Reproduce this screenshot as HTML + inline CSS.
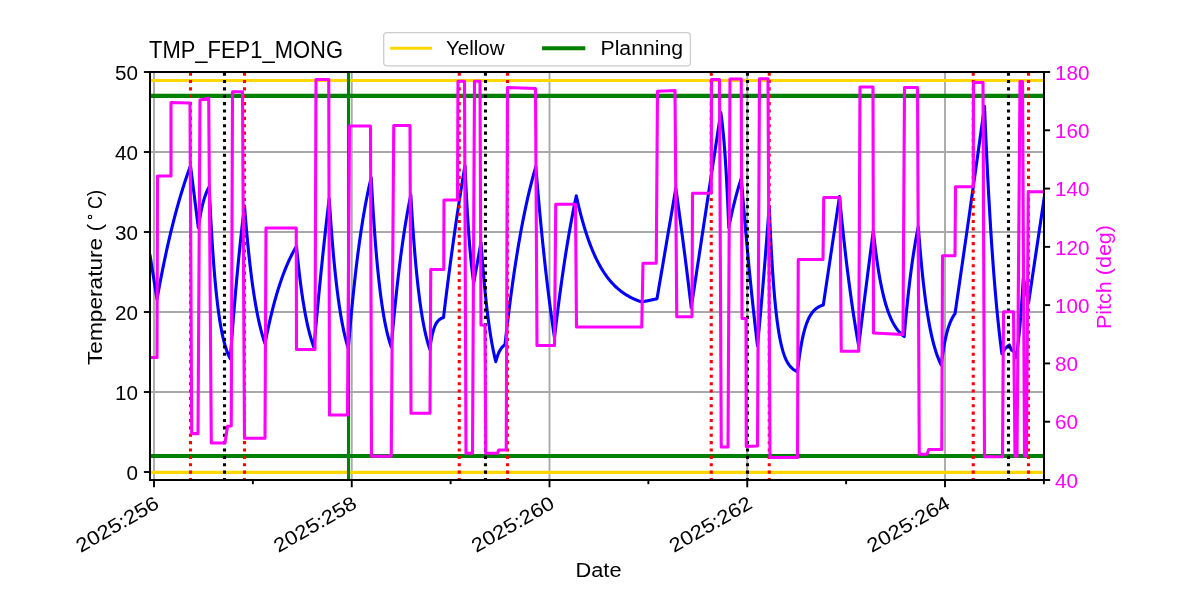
<!DOCTYPE html>
<html><head><meta charset="utf-8"><title>TMP_FEP1_MONG</title>
<style>html,body{margin:0;padding:0;background:#fff;width:1200px;height:600px;overflow:hidden;font-family:"Liberation Sans",sans-serif;}svg{display:block;will-change:transform}</style>
</head><body>
<svg width="1200" height="600" viewBox="0 0 1200 600">
<rect x="0" y="0" width="1200" height="600" fill="#ffffff"/>
<defs><clipPath id="ax"><rect x="150" y="72" width="894" height="408"/></clipPath></defs>
<g stroke="#a9a9a9" stroke-width="1.9" clip-path="url(#ax)"><line x1="150" x2="1044" y1="472" y2="472"/><line x1="150" x2="1044" y1="392" y2="392"/><line x1="150" x2="1044" y1="312" y2="312"/><line x1="150" x2="1044" y1="232" y2="232"/><line x1="150" x2="1044" y1="152" y2="152"/><line x1="150" x2="1044" y1="72" y2="72"/><line x1="154.00" x2="154.00" y1="72" y2="480"/><line x1="351.75" x2="351.75" y1="72" y2="480"/><line x1="549.50" x2="549.50" y1="72" y2="480"/><line x1="747.25" x2="747.25" y1="72" y2="480"/><line x1="945.00" x2="945.00" y1="72" y2="480"/></g>
<g clip-path="url(#ax)">
<path d="M150.00,255.00 L150.50,258.16 L151.00,261.31 L151.50,264.47 L152.00,267.63 L152.50,270.79 L153.00,273.94 L153.50,277.10 L154.00,280.26 L154.50,283.41 L155.00,286.57 L155.50,289.73 L156.00,292.89 L156.50,296.04 L157.00,299.20 L157.50,296.40 L158.00,293.63 L158.50,290.90 L159.00,288.19 L159.50,285.51 L160.00,282.86 L160.50,280.24 L161.00,277.65 L161.50,275.09 L162.00,272.55 L162.50,270.04 L163.00,267.57 L163.50,265.11 L164.00,262.69 L164.50,260.29 L165.00,257.91 L165.50,255.57 L166.00,253.25 L166.50,250.95 L167.00,248.68 L167.50,246.43 L168.00,244.21 L168.50,242.02 L169.00,239.84 L169.50,237.69 L170.00,235.57 L170.50,233.46 L171.00,231.39 L171.50,229.33 L172.00,227.29 L172.50,225.28 L173.00,223.29 L173.50,221.32 L174.00,219.38 L174.50,217.45 L175.00,215.55 L175.50,213.66 L176.00,211.80 L176.50,209.96 L177.00,208.14 L177.50,206.33 L178.00,204.55 L178.50,202.79 L179.00,201.04 L179.50,199.32 L180.00,197.61 L180.50,195.93 L181.00,194.26 L181.50,192.61 L182.00,190.97 L182.50,189.36 L183.00,187.76 L183.50,186.18 L184.00,184.62 L184.50,183.08 L185.00,181.55 L185.50,180.04 L186.00,178.54 L186.50,177.06 L187.00,175.60 L187.50,174.15 L188.00,172.72 L188.50,171.31 L189.00,169.91 L189.50,168.52 L190.00,167.15 L190.50,165.80 L191.02,169.91 L191.54,174.03 L192.06,178.14 L192.58,182.25 L193.10,186.37 L193.62,190.48 L194.14,194.59 L194.66,198.71 L195.18,202.82 L195.70,206.93 L196.22,211.05 L196.74,215.16 L197.26,219.27 L197.78,223.39 L198.30,227.50 L198.82,224.04 L199.34,220.80 L199.86,217.77 L200.38,214.92 L200.90,212.26 L201.41,209.77 L201.93,207.43 L202.45,205.24 L202.97,203.19 L203.49,201.27 L204.01,199.47 L204.53,197.79 L205.05,196.21 L205.57,194.73 L206.09,193.35 L206.60,192.05 L207.12,190.84 L207.64,189.70 L208.16,188.63 L208.68,187.64 L209.20,186.70 L209.70,197.50 L210.20,207.68 L210.71,217.27 L211.21,226.31 L211.71,234.82 L212.21,242.85 L212.72,250.42 L213.22,257.55 L213.72,264.27 L214.22,270.60 L214.73,276.57 L215.23,282.20 L215.73,287.50 L216.23,292.50 L216.74,297.20 L217.24,301.64 L217.74,305.83 L218.24,309.77 L218.75,313.48 L219.25,316.98 L219.75,320.28 L220.25,323.39 L220.75,326.32 L221.26,329.08 L221.76,331.69 L222.26,334.14 L222.76,336.45 L223.27,338.63 L223.77,340.68 L224.27,342.62 L224.77,344.44 L225.28,346.16 L225.78,347.78 L226.28,349.31 L226.78,350.75 L227.29,352.10 L227.79,353.38 L228.29,354.59 L228.79,355.72 L229.30,356.79 L229.80,357.80 L230.30,358.75 L230.81,351.75 L231.31,344.88 L231.82,338.15 L232.33,331.54 L232.84,325.06 L233.34,318.70 L233.85,312.46 L234.36,306.35 L234.86,300.35 L235.37,294.46 L235.88,288.69 L236.39,283.02 L236.89,277.47 L237.40,272.02 L237.91,266.68 L238.41,261.43 L238.92,256.29 L239.43,251.24 L239.94,246.30 L240.44,241.44 L240.95,236.68 L241.46,232.01 L241.96,227.43 L242.47,222.93 L242.98,218.53 L243.49,214.20 L243.99,209.96 L244.50,205.80 L245.00,212.21 L245.50,218.38 L246.00,224.33 L246.50,230.07 L247.00,235.59 L247.50,240.92 L248.00,246.05 L248.50,250.99 L249.00,255.76 L249.50,260.35 L250.00,264.78 L250.50,269.04 L251.00,273.15 L251.50,277.11 L252.00,280.93 L252.50,284.61 L253.00,288.15 L253.50,291.57 L254.00,294.86 L254.50,298.03 L255.00,301.09 L255.50,304.04 L256.00,306.88 L256.50,309.61 L257.00,312.25 L257.50,314.79 L258.00,317.24 L258.50,319.60 L259.00,321.87 L259.50,324.06 L260.00,326.17 L260.50,328.21 L261.00,330.17 L261.50,332.06 L262.00,333.88 L262.50,335.64 L263.00,337.33 L263.50,338.96 L264.00,340.53 L264.50,342.04 L265.00,343.50 L265.50,340.94 L266.00,338.43 L266.50,335.96 L267.00,333.53 L267.50,331.15 L268.00,328.81 L268.50,326.52 L269.00,324.26 L269.50,322.04 L270.00,319.87 L270.50,317.73 L271.00,315.63 L271.50,313.57 L272.00,311.54 L272.50,309.56 L273.00,307.60 L273.50,305.68 L274.00,303.80 L274.50,301.95 L275.00,300.13 L275.50,298.34 L276.00,296.59 L276.50,294.87 L277.00,293.18 L277.50,291.52 L278.00,289.88 L278.50,288.28 L279.00,286.71 L279.50,285.16 L280.00,283.64 L280.50,282.15 L281.00,280.69 L281.50,279.25 L282.00,277.84 L282.50,276.45 L283.00,275.08 L283.50,273.75 L284.00,272.43 L284.50,271.14 L285.00,269.87 L285.50,268.63 L286.00,267.40 L286.50,266.20 L287.00,265.02 L287.50,263.86 L288.00,262.72 L288.50,261.60 L289.00,260.51 L289.50,259.43 L290.00,258.37 L290.50,257.33 L291.00,256.31 L291.50,255.30 L292.00,254.32 L292.50,253.35 L293.00,252.40 L293.50,251.46 L294.00,250.55 L294.50,249.65 L295.00,248.76 L295.50,247.89 L296.00,247.04 L296.50,246.20 L297.00,251.47 L297.50,256.54 L298.00,261.40 L298.50,266.08 L299.00,270.57 L299.50,274.89 L300.00,279.04 L300.50,283.02 L301.00,286.85 L301.50,290.53 L302.00,294.06 L302.50,297.46 L303.00,300.72 L303.50,303.85 L304.00,306.87 L304.50,309.76 L305.00,312.54 L305.50,315.21 L306.00,317.78 L306.50,320.24 L307.00,322.61 L307.50,324.89 L308.00,327.07 L308.50,329.17 L309.00,331.19 L309.50,333.13 L310.00,335.00 L310.50,336.79 L311.00,338.51 L311.50,340.16 L312.00,341.75 L312.50,343.27 L313.00,344.74 L313.50,346.15 L314.00,347.50 L314.51,341.69 L315.01,335.94 L315.52,330.26 L316.03,324.64 L316.53,319.08 L317.04,313.59 L317.55,308.15 L318.05,302.78 L318.56,297.46 L319.07,292.21 L319.57,287.01 L320.08,281.87 L320.59,276.78 L321.09,271.76 L321.60,266.79 L322.11,261.87 L322.61,257.01 L323.12,252.20 L323.63,247.45 L324.13,242.74 L324.64,238.09 L325.15,233.50 L325.65,228.95 L326.16,224.45 L326.67,220.01 L327.17,215.61 L327.68,211.26 L328.19,206.96 L328.69,202.71 L329.20,198.50 L329.70,206.26 L330.21,213.70 L330.71,220.84 L331.21,227.67 L331.71,234.23 L332.22,240.51 L332.72,246.54 L333.22,252.31 L333.72,257.85 L334.23,263.16 L334.73,268.25 L335.23,273.12 L335.73,277.80 L336.24,282.28 L336.74,286.58 L337.24,290.70 L337.74,294.65 L338.25,298.44 L338.75,302.07 L339.25,305.55 L339.76,308.88 L340.26,312.08 L340.76,315.15 L341.26,318.09 L341.77,320.90 L342.27,323.60 L342.77,326.19 L343.27,328.68 L343.78,331.06 L344.28,333.34 L344.78,335.52 L345.28,337.62 L345.79,339.63 L346.29,341.56 L346.79,343.40 L347.29,345.17 L347.80,346.87 L348.30,348.50 L348.81,342.31 L349.32,336.27 L349.83,330.38 L350.34,324.63 L350.84,319.02 L351.35,313.54 L351.86,308.20 L352.37,302.98 L352.88,297.89 L353.39,292.93 L353.90,288.08 L354.41,283.35 L354.92,278.74 L355.42,274.23 L355.93,269.84 L356.44,265.55 L356.95,261.36 L357.46,257.28 L357.97,253.29 L358.48,249.40 L358.99,245.60 L359.50,241.90 L360.00,238.28 L360.51,234.75 L361.02,231.31 L361.53,227.95 L362.04,224.67 L362.55,221.47 L363.06,218.35 L363.57,215.30 L364.08,212.33 L364.58,209.43 L365.09,206.60 L365.60,203.83 L366.11,201.14 L366.62,198.50 L367.13,195.94 L367.64,193.43 L368.15,190.98 L368.66,188.60 L369.16,186.27 L369.67,183.99 L370.18,181.78 L370.69,179.61 L371.20,177.50 L371.70,186.70 L372.20,195.47 L372.70,203.84 L373.20,211.83 L373.71,219.45 L374.21,226.72 L374.71,233.65 L375.21,240.26 L375.71,246.57 L376.21,252.59 L376.71,258.33 L377.21,263.81 L377.72,269.04 L378.22,274.02 L378.72,278.78 L379.22,283.31 L379.72,287.64 L380.22,291.77 L380.72,295.71 L381.23,299.47 L381.73,303.05 L382.23,306.47 L382.73,309.73 L383.23,312.85 L383.73,315.82 L384.23,318.65 L384.73,321.35 L385.24,323.93 L385.74,326.39 L386.24,328.73 L386.74,330.97 L387.24,333.10 L387.74,335.14 L388.24,337.08 L388.74,338.94 L389.25,340.70 L389.75,342.39 L390.25,344.00 L390.75,345.54 L391.25,347.00 L391.75,341.16 L392.25,335.45 L392.75,329.87 L393.26,324.42 L393.76,319.09 L394.26,313.89 L394.76,308.80 L395.26,303.83 L395.76,298.97 L396.26,294.23 L396.76,289.59 L397.27,285.06 L397.77,280.63 L398.27,276.30 L398.77,272.07 L399.27,267.93 L399.77,263.90 L400.27,259.95 L400.77,256.09 L401.28,252.32 L401.78,248.64 L402.28,245.04 L402.78,241.52 L403.28,238.08 L403.78,234.73 L404.28,231.44 L404.78,228.24 L405.29,225.10 L405.79,222.04 L406.29,219.05 L406.79,216.12 L407.29,213.26 L407.79,210.47 L408.29,207.74 L408.79,205.07 L409.30,202.47 L409.80,199.92 L410.30,197.43 L410.80,195.00 L411.30,203.51 L411.80,211.62 L412.30,219.36 L412.80,226.75 L413.30,233.80 L413.80,240.52 L414.30,246.94 L414.80,253.06 L415.30,258.90 L415.80,264.47 L416.30,269.79 L416.80,274.86 L417.30,279.70 L417.80,284.31 L418.30,288.72 L418.80,292.92 L419.30,296.93 L419.80,300.76 L420.30,304.41 L420.80,307.89 L421.30,311.21 L421.80,314.38 L422.30,317.41 L422.80,320.29 L423.30,323.04 L423.80,325.67 L424.30,328.18 L424.80,330.57 L425.30,332.85 L425.80,335.03 L426.30,337.10 L426.80,339.08 L427.30,340.97 L427.80,342.78 L428.30,344.50 L428.80,346.14 L429.30,347.71 L429.80,349.20 L430.31,345.48 L430.81,342.17 L431.32,339.24 L431.83,336.64 L432.34,334.33 L432.84,332.29 L433.35,330.47 L433.86,328.86 L434.37,327.43 L434.87,326.16 L435.38,325.04 L435.89,324.04 L436.40,323.16 L436.90,322.37 L437.41,321.67 L437.92,321.06 L438.43,320.51 L438.93,320.02 L439.44,319.59 L439.95,319.21 L440.46,318.87 L440.96,318.57 L441.47,318.30 L441.98,318.06 L442.49,317.85 L442.99,317.67 L443.50,317.50 L444.00,313.34 L444.50,309.21 L445.00,305.12 L445.50,301.05 L446.00,297.02 L446.50,293.03 L447.00,289.06 L447.50,285.13 L448.00,281.22 L448.50,277.35 L449.00,273.51 L449.50,269.70 L450.00,265.92 L450.50,262.17 L451.00,258.45 L451.50,254.76 L452.00,251.10 L452.50,247.47 L453.00,243.86 L453.50,240.29 L454.00,236.74 L454.50,233.22 L455.00,229.74 L455.50,226.27 L456.00,222.84 L456.50,219.43 L457.00,216.05 L457.50,212.70 L458.00,209.37 L458.50,206.08 L459.00,202.80 L459.50,199.55 L460.00,196.33 L460.50,193.14 L461.00,189.97 L461.50,186.82 L462.00,183.70 L462.50,180.61 L463.00,177.54 L463.50,174.49 L464.00,171.47 L464.50,168.47 L465.00,165.50 L465.51,177.04 L466.02,187.78 L466.54,197.77 L467.05,207.08 L467.56,215.74 L468.07,223.80 L468.58,231.31 L469.09,238.30 L469.61,244.80 L470.12,250.85 L470.63,256.49 L471.14,261.74 L471.65,266.62 L472.16,271.16 L472.68,275.39 L473.19,279.33 L473.70,283.00 L474.22,280.11 L474.74,277.21 L475.26,274.32 L475.79,271.43 L476.31,268.54 L476.83,265.64 L477.35,262.75 L477.87,259.86 L478.39,256.96 L478.91,254.07 L479.44,251.18 L479.96,248.29 L480.48,245.39 L481.00,242.50 L481.51,249.61 L482.02,256.41 L482.53,262.93 L483.04,269.16 L483.55,275.12 L484.06,280.83 L484.57,286.30 L485.08,291.52 L485.59,296.53 L486.10,301.32 L486.61,305.90 L487.12,310.29 L487.63,314.49 L488.14,318.51 L488.66,322.35 L489.17,326.03 L489.68,329.55 L490.19,332.93 L490.70,336.15 L491.21,339.24 L491.72,342.20 L492.23,345.02 L492.74,347.73 L493.25,350.32 L493.76,352.80 L494.27,355.17 L494.78,357.45 L495.29,359.62 L495.80,361.70 L496.31,359.77 L496.82,358.02 L497.33,356.44 L497.84,355.00 L498.36,353.70 L498.87,352.52 L499.38,351.45 L499.89,350.48 L500.40,349.60 L500.91,348.80 L501.42,348.08 L501.93,347.43 L502.44,346.83 L502.96,346.30 L503.47,345.81 L503.98,345.36 L504.49,344.96 L505.00,344.60 L505.50,340.05 L506.01,335.57 L506.51,331.17 L507.02,326.84 L507.52,322.57 L508.03,318.38 L508.53,314.25 L509.04,310.18 L509.54,306.19 L510.05,302.25 L510.55,298.38 L511.06,294.57 L511.56,290.83 L512.07,287.14 L512.57,283.51 L513.08,279.94 L513.58,276.43 L514.09,272.97 L514.59,269.57 L515.10,266.23 L515.60,262.93 L516.11,259.69 L516.61,256.50 L517.12,253.37 L517.62,250.28 L518.13,247.24 L518.63,244.25 L519.14,241.31 L519.64,238.42 L520.15,235.57 L520.65,232.77 L521.16,230.01 L521.66,227.30 L522.17,224.63 L522.67,222.01 L523.18,219.42 L523.68,216.88 L524.19,214.38 L524.69,211.91 L525.20,209.49 L525.70,207.11 L526.21,204.76 L526.71,202.46 L527.22,200.18 L527.72,197.95 L528.23,195.75 L528.73,193.59 L529.24,191.46 L529.74,189.36 L530.25,187.30 L530.75,185.28 L531.26,183.28 L531.76,181.32 L532.27,179.38 L532.77,177.48 L533.28,175.61 L533.78,173.77 L534.29,171.96 L534.79,170.18 L535.30,168.43 L535.80,166.70 L536.31,172.88 L536.81,178.96 L537.32,184.94 L537.82,190.81 L538.33,196.59 L538.83,202.26 L539.34,207.84 L539.84,213.33 L540.35,218.72 L540.85,224.02 L541.36,229.22 L541.86,234.34 L542.37,239.38 L542.88,244.32 L543.38,249.19 L543.89,253.97 L544.39,258.66 L544.90,263.28 L545.40,267.82 L545.91,272.28 L546.41,276.67 L546.92,280.98 L547.42,285.22 L547.93,289.38 L548.44,293.48 L548.94,297.50 L549.45,301.46 L549.95,305.35 L550.46,309.17 L550.96,312.93 L551.47,316.62 L551.97,320.25 L552.48,323.82 L552.98,327.33 L553.49,330.78 L553.99,334.17 L554.50,337.50 L555.01,333.13 L555.51,328.82 L556.02,324.57 L556.53,320.38 L557.03,316.25 L557.54,312.18 L558.05,308.16 L558.56,304.20 L559.06,300.30 L559.57,296.45 L560.08,292.66 L560.58,288.92 L561.09,285.23 L561.60,281.60 L562.10,278.02 L562.61,274.48 L563.12,271.00 L563.63,267.56 L564.13,264.18 L564.64,260.84 L565.15,257.55 L565.65,254.30 L566.16,251.11 L566.67,247.95 L567.17,244.84 L567.68,241.78 L568.19,238.75 L568.70,235.77 L569.20,232.84 L569.71,229.94 L570.22,227.08 L570.72,224.27 L571.23,221.49 L571.74,218.76 L572.24,216.06 L572.75,213.40 L573.26,210.78 L573.77,208.19 L574.27,205.64 L574.78,203.13 L575.29,200.65 L575.79,198.21 L576.30,195.80 L576.80,198.08 L577.31,200.32 L577.81,202.52 L578.31,204.67 L578.82,206.77 L579.32,208.84 L579.82,210.86 L580.33,212.85 L580.83,214.79 L581.33,216.70 L581.84,218.56 L582.34,220.39 L582.84,222.19 L583.35,223.94 L583.85,225.67 L584.36,227.36 L584.86,229.01 L585.36,230.63 L585.87,232.22 L586.37,233.78 L586.87,235.31 L587.38,236.80 L587.88,238.27 L588.38,239.71 L588.89,241.11 L589.39,242.50 L589.89,243.85 L590.40,245.17 L590.90,246.47 L591.40,247.75 L591.91,249.00 L592.41,250.22 L592.91,251.42 L593.42,252.59 L593.92,253.74 L594.42,254.87 L594.93,255.98 L595.43,257.06 L595.93,258.13 L596.44,259.17 L596.94,260.19 L597.45,261.19 L597.95,262.17 L598.45,263.13 L598.96,264.07 L599.46,264.99 L599.96,265.90 L600.47,266.78 L600.97,267.65 L601.47,268.50 L601.98,269.34 L602.48,270.16 L602.98,270.96 L603.49,271.74 L603.99,272.51 L604.49,273.27 L605.00,274.01 L605.50,274.73 L606.00,275.44 L606.51,276.14 L607.01,276.82 L607.51,277.49 L608.02,278.14 L608.52,278.79 L609.02,279.42 L609.53,280.03 L610.03,280.64 L610.54,281.23 L611.04,281.81 L611.54,282.38 L612.05,282.94 L612.55,283.48 L613.05,284.02 L613.56,284.55 L614.06,285.06 L614.56,285.56 L615.07,286.06 L615.57,286.54 L616.07,287.02 L616.58,287.48 L617.08,287.94 L617.58,288.39 L618.09,288.82 L618.59,289.25 L619.09,289.67 L619.60,290.09 L620.10,290.49 L620.60,290.89 L621.11,291.27 L621.61,291.66 L622.12,292.03 L622.62,292.39 L623.12,292.75 L623.63,293.10 L624.13,293.45 L624.63,293.78 L625.14,294.11 L625.64,294.44 L626.14,294.76 L626.65,295.07 L627.15,295.37 L627.65,295.67 L628.16,295.96 L628.66,296.25 L629.16,296.53 L629.67,296.81 L630.17,297.08 L630.67,297.34 L631.18,297.60 L631.68,297.86 L632.18,298.10 L632.69,298.35 L633.19,298.59 L633.69,298.82 L634.20,299.05 L634.70,299.28 L635.21,299.50 L635.71,299.72 L636.21,299.93 L636.72,300.14 L637.22,300.34 L637.72,300.54 L638.23,300.73 L638.73,300.93 L639.23,301.11 L639.74,301.30 L640.24,301.48 L640.74,301.66 L641.25,301.83 L641.75,302.00 L642.26,301.89 L642.77,301.78 L643.27,301.68 L643.78,301.57 L644.29,301.46 L644.80,301.35 L645.31,301.24 L645.82,301.13 L646.33,301.02 L646.83,300.92 L647.34,300.81 L647.85,300.70 L648.36,300.59 L648.87,300.48 L649.38,300.38 L649.88,300.27 L650.39,300.16 L650.90,300.05 L651.41,299.94 L651.92,299.83 L652.42,299.73 L652.93,299.62 L653.44,299.51 L653.95,299.40 L654.46,299.29 L654.97,299.18 L655.48,299.07 L655.98,298.97 L656.49,298.86 L657.00,298.75 L657.51,295.76 L658.02,292.78 L658.52,289.79 L659.03,286.81 L659.54,283.82 L660.05,280.84 L660.56,277.85 L661.06,274.87 L661.57,271.88 L662.08,268.90 L662.59,265.91 L663.10,262.93 L663.61,259.94 L664.11,256.96 L664.62,253.97 L665.13,250.99 L665.64,248.00 L666.15,245.02 L666.65,242.03 L667.16,239.05 L667.67,236.06 L668.18,233.08 L668.69,230.09 L669.19,227.11 L669.70,224.12 L670.21,221.14 L670.72,218.15 L671.23,215.17 L671.74,212.18 L672.24,209.20 L672.75,206.21 L673.26,203.23 L673.77,200.24 L674.28,197.26 L674.78,194.27 L675.29,191.29 L675.80,188.30 L676.31,191.93 L676.83,195.58 L677.34,199.25 L677.86,202.95 L678.38,206.66 L678.89,210.41 L679.40,214.17 L679.92,217.96 L680.43,221.77 L680.95,225.60 L681.46,229.46 L681.98,233.35 L682.50,237.25 L683.01,241.18 L683.52,245.14 L684.04,249.12 L684.55,253.12 L685.07,257.15 L685.59,261.21 L686.10,265.29 L686.62,269.39 L687.13,273.52 L687.64,277.68 L688.16,281.86 L688.67,286.07 L689.19,290.30 L689.71,294.56 L690.22,298.85 L690.74,303.16 L691.25,307.50 L691.75,304.19 L692.25,300.89 L692.75,297.58 L693.25,294.28 L693.75,290.97 L694.26,287.67 L694.76,284.36 L695.26,281.06 L695.76,277.75 L696.26,274.45 L696.76,271.14 L697.26,267.84 L697.76,264.53 L698.26,261.23 L698.76,257.92 L699.26,254.62 L699.76,251.31 L700.27,248.01 L700.77,244.70 L701.27,241.40 L701.77,238.09 L702.27,234.79 L702.77,231.48 L703.27,228.18 L703.77,224.87 L704.27,221.57 L704.77,218.26 L705.27,214.96 L705.77,211.65 L706.28,208.35 L706.78,205.04 L707.28,201.74 L707.78,198.43 L708.28,195.13 L708.78,191.82 L709.28,188.52 L709.78,185.21 L710.28,181.91 L710.78,178.60 L711.28,175.30 L711.78,171.99 L712.29,168.69 L712.79,165.38 L713.29,162.08 L713.79,158.77 L714.29,155.47 L714.79,152.16 L715.29,148.86 L715.79,145.55 L716.29,142.25 L716.79,138.94 L717.29,135.64 L717.79,132.33 L718.30,129.03 L718.80,125.72 L719.30,122.42 L719.80,119.11 L720.30,115.81 L720.80,112.50 L721.33,116.32 L721.86,120.50 L722.39,125.07 L722.92,130.06 L723.45,135.51 L723.98,141.48 L724.51,148.00 L725.04,155.13 L725.57,162.92 L726.10,171.43 L726.63,180.74 L727.16,190.92 L727.69,202.05 L728.22,214.21 L728.75,227.50 L729.25,225.02 L729.75,222.59 L730.26,220.21 L730.76,217.88 L731.26,215.59 L731.76,213.35 L732.26,211.15 L732.77,209.00 L733.27,206.89 L733.77,204.82 L734.27,202.79 L734.77,200.81 L735.28,198.86 L735.78,196.95 L736.28,195.08 L736.78,193.25 L737.28,191.45 L737.79,189.69 L738.29,187.96 L738.79,186.27 L739.29,184.61 L739.79,182.99 L740.30,181.39 L740.80,179.83 L741.30,178.30 L741.81,184.67 L742.31,190.96 L742.82,197.17 L743.32,203.29 L743.83,209.34 L744.34,215.30 L744.84,221.19 L745.35,227.00 L745.86,232.74 L746.36,238.40 L746.87,243.98 L747.38,249.50 L747.88,254.94 L748.39,260.31 L748.89,265.61 L749.40,270.84 L749.91,276.00 L750.41,281.09 L750.92,286.12 L751.42,291.08 L751.93,295.98 L752.44,300.81 L752.94,305.58 L753.45,310.29 L753.96,314.94 L754.46,319.52 L754.97,324.05 L755.48,328.51 L755.98,332.92 L756.49,337.27 L756.99,341.56 L757.50,345.80 L758.01,340.50 L758.52,335.14 L759.03,329.71 L759.53,324.22 L760.04,318.66 L760.55,313.03 L761.06,307.33 L761.57,301.56 L762.08,295.72 L762.59,289.80 L763.10,283.82 L763.60,277.76 L764.11,271.63 L764.62,265.42 L765.13,259.14 L765.64,252.77 L766.15,246.33 L766.66,239.82 L767.17,233.22 L767.67,226.54 L768.18,219.77 L768.69,212.93 L769.20,206.00 L769.71,217.83 L770.21,228.83 L770.72,239.06 L771.22,248.57 L771.73,257.41 L772.23,265.64 L772.74,273.28 L773.24,280.39 L773.75,287.00 L774.25,293.15 L774.76,298.86 L775.26,304.17 L775.77,309.11 L776.28,313.71 L776.78,317.98 L777.29,321.95 L777.79,325.64 L778.30,329.08 L778.80,332.27 L779.31,335.24 L779.81,338.00 L780.32,340.56 L780.82,342.95 L781.33,345.17 L781.83,347.23 L782.34,349.15 L782.84,350.93 L783.35,352.59 L783.86,354.13 L784.36,355.57 L784.87,356.90 L785.37,358.14 L785.88,359.29 L786.38,360.37 L786.89,361.36 L787.39,362.29 L787.90,363.15 L788.40,363.95 L788.91,364.70 L789.41,365.39 L789.92,366.03 L790.42,366.63 L790.93,367.19 L791.44,367.71 L791.94,368.19 L792.45,368.63 L792.95,369.05 L793.46,369.44 L793.96,369.80 L794.47,370.13 L794.97,370.44 L795.48,370.73 L795.98,371.00 L796.49,371.25 L796.99,371.48 L797.50,371.70 L798.01,367.24 L798.51,363.08 L799.02,359.18 L799.52,355.53 L800.03,352.12 L800.54,348.93 L801.04,345.94 L801.55,343.15 L802.05,340.54 L802.56,338.09 L803.06,335.81 L803.57,333.67 L804.08,331.67 L804.58,329.80 L805.09,328.05 L805.59,326.41 L806.10,324.88 L806.61,323.45 L807.11,322.11 L807.62,320.86 L808.12,319.68 L808.63,318.59 L809.14,317.56 L809.64,316.60 L810.15,315.71 L810.65,314.87 L811.16,314.08 L811.66,313.35 L812.17,312.66 L812.68,312.02 L813.18,311.42 L813.69,310.85 L814.19,310.33 L814.70,309.84 L815.21,309.37 L815.71,308.94 L816.22,308.54 L816.72,308.16 L817.23,307.81 L817.74,307.48 L818.24,307.17 L818.75,306.89 L819.25,306.62 L819.76,306.36 L820.26,306.13 L820.77,305.91 L821.28,305.70 L821.78,305.51 L822.29,305.33 L822.79,305.16 L823.30,305.00 L823.81,301.61 L824.31,298.22 L824.82,294.83 L825.32,291.44 L825.83,288.05 L826.34,284.66 L826.84,281.27 L827.35,277.88 L827.86,274.48 L828.36,271.09 L828.87,267.70 L829.38,264.31 L829.88,260.92 L830.39,257.53 L830.89,254.14 L831.40,250.75 L831.91,247.36 L832.41,243.97 L832.92,240.58 L833.42,237.19 L833.93,233.80 L834.44,230.41 L834.94,227.02 L835.45,223.62 L835.96,220.23 L836.46,216.84 L836.97,213.45 L837.48,210.06 L837.98,206.67 L838.49,203.28 L838.99,199.89 L839.50,196.50 L840.01,201.80 L840.51,207.02 L841.02,212.14 L841.52,217.18 L842.03,222.13 L842.53,227.00 L843.04,231.79 L843.54,236.49 L844.05,241.11 L844.55,245.66 L845.06,250.12 L845.56,254.51 L846.07,258.83 L846.57,263.07 L847.08,267.24 L847.58,271.34 L848.09,275.37 L848.59,279.33 L849.10,283.23 L849.61,287.05 L850.11,290.81 L850.62,294.51 L851.12,298.15 L851.63,301.72 L852.13,305.23 L852.64,308.68 L853.14,312.08 L853.65,315.41 L854.15,318.69 L854.66,321.92 L855.16,325.08 L855.67,328.20 L856.17,331.26 L856.68,334.27 L857.18,337.23 L857.69,340.13 L858.19,342.99 L858.70,345.80 L859.20,341.72 L859.71,337.65 L860.21,333.59 L860.71,329.54 L861.22,325.49 L861.72,321.45 L862.22,317.42 L862.73,313.40 L863.23,309.39 L863.73,305.38 L864.24,301.39 L864.74,297.40 L865.24,293.42 L865.75,289.44 L866.25,285.48 L866.76,281.52 L867.26,277.57 L867.76,273.63 L868.27,269.70 L868.77,265.77 L869.27,261.86 L869.78,257.95 L870.28,254.05 L870.78,250.15 L871.29,246.27 L871.79,242.39 L872.29,238.52 L872.80,234.65 L873.30,230.80 L873.81,235.47 L874.31,239.95 L874.82,244.25 L875.33,248.38 L875.83,252.33 L876.34,256.13 L876.85,259.77 L877.35,263.26 L877.86,266.61 L878.37,269.83 L878.87,272.91 L879.38,275.87 L879.89,278.70 L880.39,281.43 L880.90,284.04 L881.40,286.54 L881.91,288.95 L882.42,291.25 L882.92,293.46 L883.43,295.59 L883.94,297.62 L884.44,299.57 L884.95,301.45 L885.46,303.24 L885.96,304.97 L886.47,306.62 L886.98,308.21 L887.48,309.73 L887.99,311.19 L888.50,312.59 L889.00,313.93 L889.51,315.22 L890.02,316.46 L890.52,317.64 L891.03,318.78 L891.54,319.87 L892.04,320.92 L892.55,321.93 L893.06,322.89 L893.56,323.81 L894.07,324.70 L894.58,325.55 L895.08,326.37 L895.59,327.15 L896.10,327.90 L896.60,328.62 L897.11,329.31 L897.61,329.98 L898.12,330.61 L898.63,331.22 L899.13,331.81 L899.64,332.37 L900.15,332.91 L900.65,333.43 L901.16,333.92 L901.67,334.40 L902.17,334.85 L902.68,335.29 L903.19,335.71 L903.69,336.11 L904.20,336.50 L904.70,330.64 L905.21,324.97 L905.71,319.48 L906.21,314.16 L906.72,309.01 L907.22,304.02 L907.73,299.19 L908.23,294.52 L908.73,289.99 L909.24,285.61 L909.74,281.36 L910.24,277.25 L910.75,273.27 L911.25,269.42 L911.75,265.69 L912.26,262.08 L912.76,258.58 L913.26,255.19 L913.77,251.91 L914.27,248.74 L914.77,245.66 L915.28,242.68 L915.78,239.80 L916.29,237.01 L916.79,234.31 L917.29,231.69 L917.80,229.15 L918.30,226.70 L918.81,233.49 L919.32,239.99 L919.83,246.22 L920.34,252.19 L920.85,257.91 L921.36,263.38 L921.87,268.63 L922.38,273.66 L922.89,278.48 L923.40,283.09 L923.91,287.52 L924.42,291.75 L924.93,295.81 L925.44,299.70 L925.95,303.43 L926.46,307.00 L926.97,310.42 L927.48,313.69 L927.99,316.83 L928.50,319.84 L929.01,322.72 L929.52,325.48 L930.03,328.12 L930.54,330.66 L931.05,333.08 L931.56,335.41 L932.07,337.64 L932.58,339.77 L933.09,341.82 L933.60,343.78 L934.11,345.66 L934.62,347.45 L935.13,349.18 L935.64,350.83 L936.15,352.41 L936.66,353.92 L937.17,355.38 L937.68,356.77 L938.19,358.10 L938.70,359.38 L939.21,360.60 L939.72,361.77 L940.23,362.89 L940.74,363.97 L941.25,365.00 L941.76,360.98 L942.27,357.23 L942.78,353.73 L943.29,350.45 L943.80,347.40 L944.31,344.54 L944.81,341.87 L945.32,339.38 L945.83,337.05 L946.34,334.88 L946.85,332.85 L947.36,330.95 L947.87,329.18 L948.38,327.53 L948.89,325.98 L949.40,324.54 L949.91,323.19 L950.42,321.93 L950.93,320.76 L951.44,319.66 L951.94,318.63 L952.45,317.67 L952.96,316.78 L953.47,315.94 L953.98,315.16 L954.49,314.43 L955.00,313.75 L955.50,310.34 L956.00,306.92 L956.50,303.50 L957.00,300.08 L957.50,296.65 L958.00,293.22 L958.50,289.78 L959.00,286.35 L959.50,282.91 L960.00,279.46 L960.50,276.01 L961.00,272.56 L961.50,269.11 L962.00,265.65 L962.50,262.19 L963.00,258.72 L963.50,255.25 L964.00,251.78 L964.50,248.31 L965.00,244.83 L965.50,241.35 L966.00,237.86 L966.50,234.37 L967.00,230.88 L967.50,227.38 L968.00,223.88 L968.50,220.38 L969.00,216.87 L969.50,213.36 L970.00,209.85 L970.50,206.33 L971.00,202.81 L971.50,199.28 L972.00,195.76 L972.50,192.22 L973.00,188.69 L973.50,185.15 L974.00,181.61 L974.50,178.06 L975.00,174.51 L975.50,170.96 L976.00,167.40 L976.50,163.84 L977.00,160.28 L977.50,156.71 L978.00,153.14 L978.50,149.57 L979.00,145.99 L979.50,142.41 L980.00,138.83 L980.50,135.24 L981.00,131.65 L981.50,128.05 L982.00,124.45 L982.50,120.85 L983.00,117.24 L983.50,113.63 L984.00,110.02 L984.50,106.40 L985.01,118.60 L985.52,130.37 L986.04,141.75 L986.55,152.73 L987.06,163.34 L987.57,173.59 L988.08,183.49 L988.59,193.05 L989.11,202.28 L989.62,211.19 L990.13,219.81 L990.64,228.12 L991.15,236.15 L991.66,243.91 L992.18,251.40 L992.69,258.64 L993.20,265.63 L993.71,272.38 L994.22,278.89 L994.74,285.19 L995.25,291.27 L995.76,297.14 L996.27,302.81 L996.78,308.29 L997.29,313.58 L997.81,318.69 L998.32,323.62 L998.83,328.39 L999.34,332.99 L999.85,337.44 L1000.36,341.73 L1000.88,345.88 L1001.39,349.88 L1001.90,353.75 L1002.40,352.79 L1002.90,351.90 L1003.40,351.08 L1003.90,350.32 L1004.40,349.62 L1004.90,348.98 L1005.40,348.38 L1005.90,347.83 L1006.40,347.32 L1006.90,346.85 L1007.40,346.42 L1007.90,346.02 L1008.40,345.65 L1008.90,345.31 L1009.40,345.00 L1010.02,346.67 L1010.63,348.33 L1011.25,350.00 L1011.75,350.19 L1012.25,350.44 L1012.75,350.75 L1013.25,351.15 L1013.75,351.67 L1014.25,352.34 L1014.75,353.19 L1015.25,354.29 L1015.75,355.69 L1016.25,357.50 L1016.75,354.00 L1017.26,350.24 L1017.76,346.23 L1018.26,341.92 L1018.77,337.32 L1019.27,332.38 L1019.77,327.10 L1020.28,321.44 L1020.78,315.38 L1021.29,308.89 L1021.79,301.94 L1022.29,294.50 L1022.80,286.53 L1023.30,278.00 L1023.82,280.50 L1024.34,283.00 L1024.86,285.50 L1025.38,288.00 L1025.90,290.50 L1026.42,293.00 L1026.94,295.50 L1027.46,298.00 L1027.98,300.50 L1028.50,303.00 L1029.00,299.65 L1029.50,296.30 L1030.00,292.95 L1030.50,289.61 L1031.00,286.26 L1031.50,282.91 L1032.00,279.56 L1032.50,276.21 L1033.00,272.86 L1033.50,269.52 L1034.00,266.17 L1034.50,262.82 L1035.00,259.47 L1035.50,256.12 L1036.00,252.77 L1036.50,249.42 L1037.00,246.08 L1037.50,242.73 L1038.00,239.38 L1038.50,236.03 L1039.00,232.68 L1039.50,229.33 L1040.00,225.98 L1040.50,222.64 L1041.00,219.29 L1041.50,215.94 L1042.00,212.59 L1042.50,209.24 L1043.00,205.89 L1043.50,202.55 L1044.00,199.20 L1044.50,195.85 L1045.00,192.50" fill="none" stroke="#0000ff" stroke-width="3.1" stroke-linejoin="round" stroke-linecap="round"/>
<line x1="150" x2="1044" y1="80.45" y2="80.45" stroke="#ffd700" stroke-width="3.1"/>
<line x1="150" x2="1044" y1="472.4" y2="472.4" stroke="#ffd700" stroke-width="3.1"/>
<line x1="150" x2="1044" y1="95.9" y2="95.9" stroke="#008000" stroke-width="4.1"/>
<line x1="150" x2="1044" y1="456" y2="456" stroke="#008000" stroke-width="4.1"/>
<line x1="348.5" x2="348.5" y1="72" y2="480" stroke="#008000" stroke-width="3.1"/>
<line x1="190.5" x2="190.5" y1="72" y2="480" stroke="#ff0000" stroke-width="3.1" stroke-dasharray="3.1 4.27" stroke-dashoffset="-0.6"/>
<line x1="244.5" x2="244.5" y1="72" y2="480" stroke="#ff0000" stroke-width="3.1" stroke-dasharray="3.1 4.27" stroke-dashoffset="-0.6"/>
<line x1="459.25" x2="459.25" y1="72" y2="480" stroke="#ff0000" stroke-width="3.1" stroke-dasharray="3.1 4.27" stroke-dashoffset="-0.6"/>
<line x1="507.5" x2="507.5" y1="72" y2="480" stroke="#ff0000" stroke-width="3.1" stroke-dasharray="3.1 4.27" stroke-dashoffset="-0.6"/>
<line x1="711.25" x2="711.25" y1="72" y2="480" stroke="#ff0000" stroke-width="3.1" stroke-dasharray="3.1 4.27" stroke-dashoffset="-0.6"/>
<line x1="769.25" x2="769.25" y1="72" y2="480" stroke="#ff0000" stroke-width="3.1" stroke-dasharray="3.1 4.27" stroke-dashoffset="-0.6"/>
<line x1="973.25" x2="973.25" y1="72" y2="480" stroke="#ff0000" stroke-width="3.1" stroke-dasharray="3.1 4.27" stroke-dashoffset="-0.6"/>
<line x1="1028.5" x2="1028.5" y1="72" y2="480" stroke="#ff0000" stroke-width="3.1" stroke-dasharray="3.1 4.27" stroke-dashoffset="-0.6"/>
<line x1="224.5" x2="224.5" y1="72" y2="480" stroke="#000000" stroke-width="3.1" stroke-dasharray="3.1 4.27" stroke-dashoffset="-0.6"/>
<line x1="485.5" x2="485.5" y1="72" y2="480" stroke="#000000" stroke-width="3.1" stroke-dasharray="3.1 4.27" stroke-dashoffset="-0.6"/>
<line x1="747.5" x2="747.5" y1="72" y2="480" stroke="#000000" stroke-width="3.1" stroke-dasharray="3.1 4.27" stroke-dashoffset="-0.6"/>
<line x1="1008.5" x2="1008.5" y1="72" y2="480" stroke="#000000" stroke-width="3.1" stroke-dasharray="3.1 4.27" stroke-dashoffset="-0.6"/>
<polyline points="150.00,357.50 157.00,357.50 157.50,176.00 171.00,176.00 171.00,102.50 190.00,103.00 191.70,433.60 198.00,433.60 200.00,100.00 202.50,99.50 208.70,98.30 211.30,443.00 225.00,443.00 227.50,426.25 231.25,426.00 232.50,91.75 242.50,91.75 244.50,438.25 265.00,438.25 266.00,228.00 296.25,228.00 296.50,349.50 315.00,349.50 316.00,79.50 328.75,79.50 329.50,415.00 347.50,415.00 349.50,126.00 370.50,126.00 371.50,456.25 391.25,456.25 393.75,125.50 410.00,125.50 411.00,413.25 430.00,413.25 430.75,269.50 443.75,269.50 444.00,200.00 457.50,200.00 458.00,81.25 464.50,81.25 466.00,453.25 472.50,453.25 474.50,81.25 480.00,81.25 481.00,325.00 485.00,325.00 485.75,453.25 497.50,453.25 498.75,450.00 506.25,450.00 507.50,87.50 535.50,88.50 537.00,345.50 554.50,345.50 555.75,204.25 575.50,204.25 576.50,327.00 641.75,327.00 643.00,263.25 656.25,263.25 657.50,91.25 675.00,90.50 676.75,316.75 692.00,316.75 692.50,193.25 711.25,193.25 711.50,79.50 719.50,79.50 721.25,447.00 728.00,447.00 730.00,79.00 741.25,79.00 742.00,318.50 746.00,318.50 746.25,446.50 757.50,446.00 759.50,78.75 768.00,78.75 770.00,457.50 797.50,457.50 798.25,259.50 823.00,259.50 823.75,197.50 840.00,197.50 841.25,351.25 858.75,351.25 860.00,87.00 873.00,87.00 873.50,333.00 903.00,334.50 904.50,87.50 917.50,87.50 919.25,454.25 927.00,454.25 928.75,449.50 941.75,449.50 942.50,255.75 955.00,255.75 955.50,186.75 973.25,186.75 973.50,82.50 983.00,82.50 984.50,456.75 1002.50,456.75 1003.50,311.75 1013.50,311.75 1015.00,456.25 1017.00,456.25 1020.00,81.50 1022.50,81.50 1024.50,456.00 1026.50,456.00 1028.25,191.75 1045.00,191.75" fill="none" stroke="#ff00ff" stroke-width="3.1" stroke-linejoin="round" stroke-linecap="round"/>
</g>
<g stroke="#000" stroke-width="2" fill="none" stroke-linecap="square">
<rect x="150" y="72" width="894" height="408"/>
</g>
<g stroke="#000" stroke-width="1.9"><line x1="143.9" x2="150" y1="472" y2="472"/><line x1="143.9" x2="150" y1="392" y2="392"/><line x1="143.9" x2="150" y1="312" y2="312"/><line x1="143.9" x2="150" y1="232" y2="232"/><line x1="143.9" x2="150" y1="152" y2="152"/><line x1="143.9" x2="150" y1="72" y2="72"/><line x1="154.00" x2="154.00" y1="480" y2="487.3"/><line x1="351.75" x2="351.75" y1="480" y2="487.3"/><line x1="549.50" x2="549.50" y1="480" y2="487.3"/><line x1="747.25" x2="747.25" y1="480" y2="487.3"/><line x1="945.00" x2="945.00" y1="480" y2="487.3"/><line x1="252.88" x2="252.88" y1="480" y2="484.2"/><line x1="450.62" x2="450.62" y1="480" y2="484.2"/><line x1="648.38" x2="648.38" y1="480" y2="484.2"/><line x1="846.12" x2="846.12" y1="480" y2="484.2"/><line x1="1043.88" x2="1043.88" y1="480" y2="484.2"/><line x1="1044" x2="1050.1" y1="480.00" y2="480.00"/><line x1="1044" x2="1050.1" y1="421.71" y2="421.71"/><line x1="1044" x2="1050.1" y1="363.43" y2="363.43"/><line x1="1044" x2="1050.1" y1="305.14" y2="305.14"/><line x1="1044" x2="1050.1" y1="246.86" y2="246.86"/><line x1="1044" x2="1050.1" y1="188.57" y2="188.57"/><line x1="1044" x2="1050.1" y1="130.29" y2="130.29"/><line x1="1044" x2="1050.1" y1="72.00" y2="72.00"/></g>
<text x="138.1" y="479.70" text-anchor="end" font-size="19.6" font-family="Liberation Sans, sans-serif" textLength="11.50" lengthAdjust="spacingAndGlyphs">0</text>
<text x="138.1" y="399.70" text-anchor="end" font-size="19.6" font-family="Liberation Sans, sans-serif" textLength="23.00" lengthAdjust="spacingAndGlyphs">10</text>
<text x="138.1" y="319.70" text-anchor="end" font-size="19.6" font-family="Liberation Sans, sans-serif" textLength="23.00" lengthAdjust="spacingAndGlyphs">20</text>
<text x="138.1" y="239.70" text-anchor="end" font-size="19.6" font-family="Liberation Sans, sans-serif" textLength="23.00" lengthAdjust="spacingAndGlyphs">30</text>
<text x="138.1" y="159.70" text-anchor="end" font-size="19.6" font-family="Liberation Sans, sans-serif" textLength="23.00" lengthAdjust="spacingAndGlyphs">40</text>
<text x="138.1" y="79.70" text-anchor="end" font-size="19.6" font-family="Liberation Sans, sans-serif" textLength="23.00" lengthAdjust="spacingAndGlyphs">50</text>
<text x="1054.9" y="487.70" font-size="19.6" fill="#ff00ff" font-family="Liberation Sans, sans-serif" textLength="23.00" lengthAdjust="spacingAndGlyphs">40</text>
<text x="1054.9" y="429.41" font-size="19.6" fill="#ff00ff" font-family="Liberation Sans, sans-serif" textLength="23.00" lengthAdjust="spacingAndGlyphs">60</text>
<text x="1054.9" y="371.13" font-size="19.6" fill="#ff00ff" font-family="Liberation Sans, sans-serif" textLength="23.00" lengthAdjust="spacingAndGlyphs">80</text>
<text x="1054.9" y="312.84" font-size="19.6" fill="#ff00ff" font-family="Liberation Sans, sans-serif" textLength="34.50" lengthAdjust="spacingAndGlyphs">100</text>
<text x="1054.9" y="254.56" font-size="19.6" fill="#ff00ff" font-family="Liberation Sans, sans-serif" textLength="34.50" lengthAdjust="spacingAndGlyphs">120</text>
<text x="1054.9" y="196.27" font-size="19.6" fill="#ff00ff" font-family="Liberation Sans, sans-serif" textLength="34.50" lengthAdjust="spacingAndGlyphs">140</text>
<text x="1054.9" y="137.99" font-size="19.6" fill="#ff00ff" font-family="Liberation Sans, sans-serif" textLength="34.50" lengthAdjust="spacingAndGlyphs">160</text>
<text x="1054.9" y="79.70" font-size="19.6" fill="#ff00ff" font-family="Liberation Sans, sans-serif" textLength="34.50" lengthAdjust="spacingAndGlyphs">180</text>
<text transform="translate(160.50,507) rotate(-30)" text-anchor="end" font-size="19.6" font-family="Liberation Sans, sans-serif" textLength="92" lengthAdjust="spacingAndGlyphs">2025:256</text>
<text transform="translate(358.25,507) rotate(-30)" text-anchor="end" font-size="19.6" font-family="Liberation Sans, sans-serif" textLength="92" lengthAdjust="spacingAndGlyphs">2025:258</text>
<text transform="translate(556.00,507) rotate(-30)" text-anchor="end" font-size="19.6" font-family="Liberation Sans, sans-serif" textLength="92" lengthAdjust="spacingAndGlyphs">2025:260</text>
<text transform="translate(753.75,507) rotate(-30)" text-anchor="end" font-size="19.6" font-family="Liberation Sans, sans-serif" textLength="92" lengthAdjust="spacingAndGlyphs">2025:262</text>
<text transform="translate(951.50,507) rotate(-30)" text-anchor="end" font-size="19.6" font-family="Liberation Sans, sans-serif" textLength="92" lengthAdjust="spacingAndGlyphs">2025:264</text>
<text x="575.5" y="577" font-size="19.6" font-family="Liberation Sans, sans-serif" textLength="46" lengthAdjust="spacingAndGlyphs">Date</text>
<text x="149" y="57.9" font-size="24.6" font-family="Liberation Sans, sans-serif" textLength="194" lengthAdjust="spacingAndGlyphs">TMP_FEP1_MONG</text>
<text transform="translate(101.7,365) rotate(-90)" font-size="19.6" font-family="Liberation Sans, sans-serif" textLength="141" lengthAdjust="spacingAndGlyphs">Temperature (</text>
<circle cx="90" cy="217" r="1.7" fill="none" stroke="#000" stroke-width="1.1"/>
<text transform="translate(101.7,209) rotate(-90)" font-size="19.6" font-family="Liberation Sans, sans-serif" textLength="19" lengthAdjust="spacingAndGlyphs">C)</text>
<text transform="translate(1110.8,329) rotate(-90)" font-size="19.6" fill="#ff00ff" font-family="Liberation Sans, sans-serif" textLength="104" lengthAdjust="spacingAndGlyphs">Pitch (deg)</text>
<rect x="383.7" y="32.6" width="306.7" height="33.2" rx="3.3" ry="3.3" fill="#ffffff" fill-opacity="0.8" stroke="#cccccc" stroke-width="1.3"/>
<line x1="390" x2="432" y1="48.3" y2="48.3" stroke="#ffd700" stroke-width="3.1"/>
<line x1="542" x2="585.3" y1="48.3" y2="48.3" stroke="#008000" stroke-width="4.1"/>
<text x="446" y="54.8" font-size="19.6" font-family="Liberation Sans, sans-serif" textLength="58.5" lengthAdjust="spacingAndGlyphs">Yellow</text>
<text x="600.5" y="54.8" font-size="19.6" font-family="Liberation Sans, sans-serif" textLength="82.5" lengthAdjust="spacingAndGlyphs">Planning</text>
</svg>
</body></html>
